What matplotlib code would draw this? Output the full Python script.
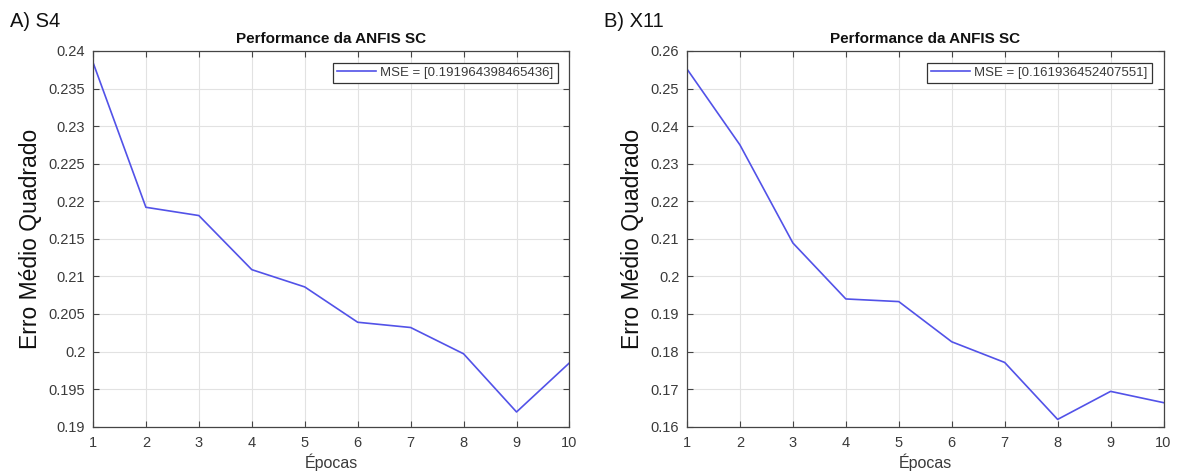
import matplotlib
matplotlib.use("Agg")
import matplotlib.pyplot as plt

plt.rcParams["font.family"] = ["Liberation Sans", "DejaVu Sans"]

epochs = [1, 2, 3, 4, 5, 6, 7, 8, 9, 10]
mse_s4 = [0.2385, 0.2192, 0.2181, 0.2109, 0.2086, 0.2039, 0.2032, 0.1997, 0.19196, 0.1985]
mse_x11 = [0.2552, 0.2350, 0.2089, 0.1940, 0.1933, 0.1826, 0.1771, 0.16194, 0.1694, 0.1664]

panels = [
    ("A) S4", mse_s4, "MSE = [0.191964398465436]", (0.19, 0.24), 0.005),
    ("B) X11", mse_x11, "MSE = [0.161936452407551]", (0.16, 0.26), 0.01),
]
lefts = [0.0787, 0.5817]

TXT = "#3a3a3a"
LINE = "#5252e8"

fig = plt.figure(figsize=(11.81, 4.73), dpi=100)

for (tag, vals, leg, ylim, step), left in zip(panels, lefts):
    ax = fig.add_axes([left, 0.0979, 0.4035, 0.7943])
    ax.plot(epochs, vals, color=LINE, linewidth=1.2, label=leg)
    ax.set_xlim(1, 10)
    ax.set_ylim(*ylim)
    n = int(round((ylim[1] - ylim[0]) / step))
    ticks = [round(ylim[0] + i * step, 4) for i in range(n + 1)]
    ax.set_yticks(ticks)
    ax.set_yticklabels([f"{t:g}" for t in ticks])
    ax.set_xticks(epochs)
    ax.grid(True, color="#e2e2e2", linewidth=0.8)
    ax.tick_params(direction="in", top=True, right=True, length=4,
                   colors="#444444", labelcolor=TXT, labelsize=10.5, width=0.8)
    ax.tick_params(axis="x", pad=7)
    ax.tick_params(axis="y", pad=5.5)
    for s in ax.spines.values():
        s.set_color("#444444")
        s.set_linewidth(0.9)
    ax.set_title("Performance da ANFIS SC", fontsize=11, fontweight="bold",
                 color="#111111", pad=6)
    ax.set_xlabel("Épocas", fontsize=11.5, color=TXT, labelpad=2)
    ax.set_ylabel("Erro Médio Quadrado", fontsize=16.5, color="#111111", labelpad=5)
    lg = ax.legend(loc="upper right", fontsize=9.5, handlelength=3.0,
                   fancybox=False, borderpad=0.3, framealpha=1,
                   borderaxespad=0.9, handletextpad=0.3)
    lg.get_frame().set_edgecolor("#333333")
    lg.get_frame().set_linewidth(0.9)
    for t in lg.get_texts():
        t.set_color(TXT)
    fig.text(left - 0.07, 0.955, tag, fontsize=14.5, color="#111111",
             ha="left", va="center")

fig.savefig("out.png", dpi=100)
